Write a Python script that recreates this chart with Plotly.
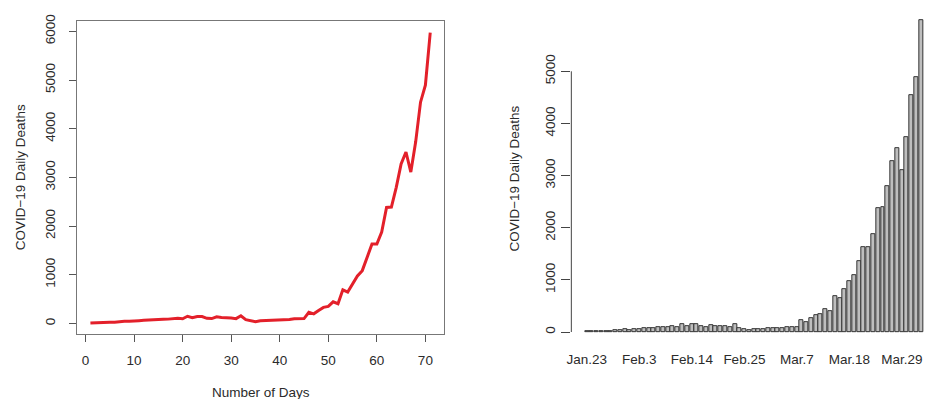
import plotly.graph_objects as go

# ---- data ----
days = list(range(1, 72))
deaths = [8, 16, 15, 24, 26, 26, 38, 43, 46, 45,
          57, 64, 66, 73, 73, 86, 89, 97, 108, 97,
          148, 118, 143, 142, 106, 100, 136, 121, 121, 112,
          99, 158, 78, 58, 36, 56, 60, 54, 68, 67,
          80, 80, 95, 98, 100, 228, 198, 268, 330, 350,
          445, 405, 690, 645, 820, 975, 1085, 1358, 1630, 1632,
          1878, 2382, 2390, 2795, 3275, 3522, 3108, 3730, 4545, 4895,
          5972]
day_ticks = [0, 10, 20, 30, 40, 50, 60, 70]
death_ticks_left = [0, 1000, 2000, 3000, 4000, 5000, 6000]
death_ticks_right = [0, 1000, 2000, 3000, 4000, 5000]
date_tick_days = [1, 12, 23, 34, 45, 56, 67]
date_labels = ["Jan.23", "Feb.3", "Feb.14", "Feb.25", "Mar.7", "Mar.18", "Mar.29"]
y_title = "COVID\u221219 Daily Deaths"
x_title = "Number of Days"

W, H = 928, 399
FONT = "Liberation Sans, Arial, Helvetica, sans-serif"
TXT = "#2b2b2b"
FS = 13.5

def px_x(p):
    return p / W

def px_y(p):
    return (H - p) / H

fig = go.Figure()

fig.add_trace(go.Scatter(
    x=days, y=deaths, mode="lines",
    line=dict(color="#E3202A", width=3),
    xaxis="x", yaxis="y", showlegend=False, hoverinfo="x+y"))

fig.add_trace(go.Bar(
    x=days, y=deaths, width=1 / 1.2,
    marker=dict(color="#BEBEBE", line=dict(color="#333333", width=1)),
    xaxis="x2", yaxis="y2", showlegend=False))

fig.update_layout(
    width=W, height=H,
    margin=dict(l=0, r=0, t=0, b=0),
    paper_bgcolor="white", plot_bgcolor="white",
    font=dict(family=FONT, size=FS, color=TXT),
    bargap=0,
    xaxis=dict(
        domain=[px_x(72.3), px_x(441.7)],
        range=[-1.78, 73.9], anchor="y",
        tickmode="array", tickvals=day_ticks,
        ticks="outside", ticklen=7, tickcolor="#555555", tickwidth=1,
        showline=True, linecolor="#777777", linewidth=1, mirror=True,
        showgrid=False, zeroline=False,
        ticklabelstandoff=7,
    ),
    yaxis=dict(
        domain=[px_y(333.3), px_y(15)],
        range=[-222.5, 6217], anchor="x",
        tickmode="array", tickvals=death_ticks_left,
        ticks="outside", ticklen=7, tickcolor="#555555", tickwidth=1,
        tickangle=-90,
        showline=True, linecolor="#777777", linewidth=1, mirror=True,
        showgrid=False, zeroline=False,
        ticklabelstandoff=9,
    ),
    xaxis2=dict(
        domain=[px_x(569.4), 1.0],
        range=[-2.25, 72.46], anchor="y2",
        tickmode="array", tickvals=date_tick_days, ticktext=date_labels,
        ticks="", showline=False, showgrid=False, zeroline=False,
        ticklabelstandoff=5,
    ),
    yaxis2=dict(
        domain=[px_y(343.6), px_y(2.2)],
        range=[-238, 6211], anchor="x2",
        tickmode="array", tickvals=death_ticks_right,
        ticks="outside", ticklen=9, tickcolor="#444444", tickwidth=1,
        tickangle=-90,
        showline=False, showgrid=False, zeroline=False,
        ticklabelstandoff=1,
    ),
    shapes=[dict(
        type="line", xref="x2 domain", yref="y2",
        x0=0, x1=0, y0=death_ticks_right[0], y1=death_ticks_right[-1],
        line=dict(color="#444444", width=1))],
    annotations=[
        dict(text=x_title, xref="paper", yref="paper",
             x=px_x(257), y=px_y(392), xanchor="center", yanchor="middle",
             showarrow=False, font=dict(size=FS, color=TXT)),
        dict(text=y_title, xref="paper", yref="paper",
             x=px_x(15), y=px_y(174), xanchor="center", yanchor="middle",
             textangle=-90, showarrow=False, font=dict(size=FS, color=TXT)),
        dict(text=y_title, xref="paper", yref="paper",
             x=px_x(512), y=px_y(175), xanchor="center", yanchor="middle",
             textangle=-90, showarrow=False, font=dict(size=FS, color=TXT)),
    ],
)

fig.write_html("out.html")
